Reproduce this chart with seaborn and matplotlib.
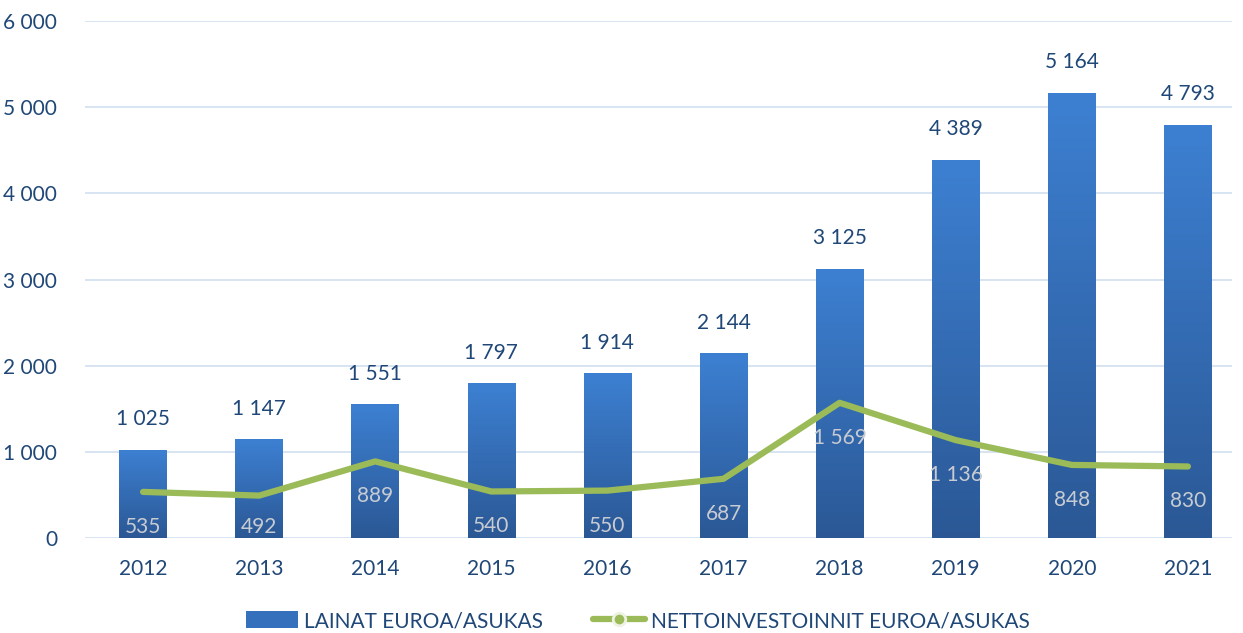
import numpy as np
import pandas as pd
import matplotlib
matplotlib.use("Agg")
import matplotlib.pyplot as plt
import seaborn as sns
from matplotlib.colors import LinearSegmentedColormap
from matplotlib.patches import Patch
from matplotlib.lines import Line2D

years = ["2012", "2013", "2014", "2015", "2016", "2017", "2018", "2019", "2020", "2021"]
lainat = [1025, 1147, 1551, 1797, 1914, 2144, 3125, 4389, 5164, 4793]
netto = [535, 492, 889, 540, 550, 687, 1569, 1136, 848, 830]
yticks = [0, 1000, 2000, 3000, 4000, 5000, 6000]

def fmt(v):
    return f"{v:,}".replace(",", " ")

sns.set_theme(style="white")
plt.rcParams['font.family'] = ['Lato', 'DejaVu Sans']

TEXT = "#1f4777"
GREEN = "#9bbb59"
FS = 15

fig = plt.figure(figsize=(12.43, 6.33), dpi=100)
ax = fig.add_axes([85/1243, 95/633, (1232-85)/1243, (538-21)/633])

df = pd.DataFrame({"year": years, "lainat": lainat, "netto": netto})
sns.barplot(data=df, x="year", y="lainat", ax=ax, color="#3470bb", width=0.41,
            saturation=1, zorder=2)

# gradient fill on each bar
cmap = LinearSegmentedColormap.from_list("g", ["#2b5895", "#3d80d2"])
grad = np.linspace(0, 1, 256).reshape(-1, 1)
for p in ax.patches:
    x0, y0 = p.get_x(), p.get_y()
    w, h = p.get_width(), p.get_height()
    im = ax.imshow(grad, cmap=cmap, origin="lower", aspect="auto",
                   extent=[x0, x0 + w, y0, y0 + h], zorder=2.1)
    im.set_clip_path(p)
    p.set_facecolor("none")
    p.set_edgecolor("none")

sns.lineplot(x=np.arange(len(years)), y=netto, ax=ax, color=GREEN, linewidth=4.5,
             zorder=3, solid_capstyle="round", solid_joinstyle="round")

ax.set_xlim(-0.5, 9.38)
ax.set_ylim(0, 6000)
ax.set_yticks(yticks)
ax.set_yticklabels([fmt(v) for v in yticks])
ax.set_xlabel("")
ax.set_ylabel("")
ax.grid(axis="y", color="#d6e2f2", linewidth=1.3, zorder=0)
ax.set_axisbelow(True)
for s in ax.spines.values():
    s.set_visible(False)
ax.tick_params(axis="both", length=0, labelsize=FS, colors=TEXT)
ax.tick_params(axis="x", pad=15)
ax.tick_params(axis="y", pad=20)

for i, v in enumerate(lainat):
    ax.annotate(fmt(v), (i, v), xytext=(0, 22), textcoords="offset points",
                ha="center", va="center", fontsize=FS, color=TEXT)

per_px = 6000 / 517
for i, v in enumerate(netto):
    ly = max(v - 35 * per_px, 11 * per_px)
    ax.text(i, ly, fmt(v), ha="center", va="center", fontsize=FS,
            color="#c8ccd2", zorder=4)

handles = [Patch(facecolor="#3470bb", edgecolor="none"),
           Line2D([0], [0], color=GREEN, linewidth=4.5, marker="o", markersize=9,
                  markerfacecolor=GREEN, markeredgecolor="#eef2e2", markeredgewidth=2)]
fig.legend(handles, ["LAINAT EUROA/ASUKAS", "NETTOINVESTOINNIT EUROA/ASUKAS"],
           loc="center", bbox_to_anchor=(638/1243, 1 - 621/633), ncol=2, frameon=False,
           fontsize=FS, labelcolor=TEXT, handlelength=2.5, handleheight=0.9,
           handletextpad=0.3, columnspacing=2.4)

fig.savefig("out.png", dpi=100)
